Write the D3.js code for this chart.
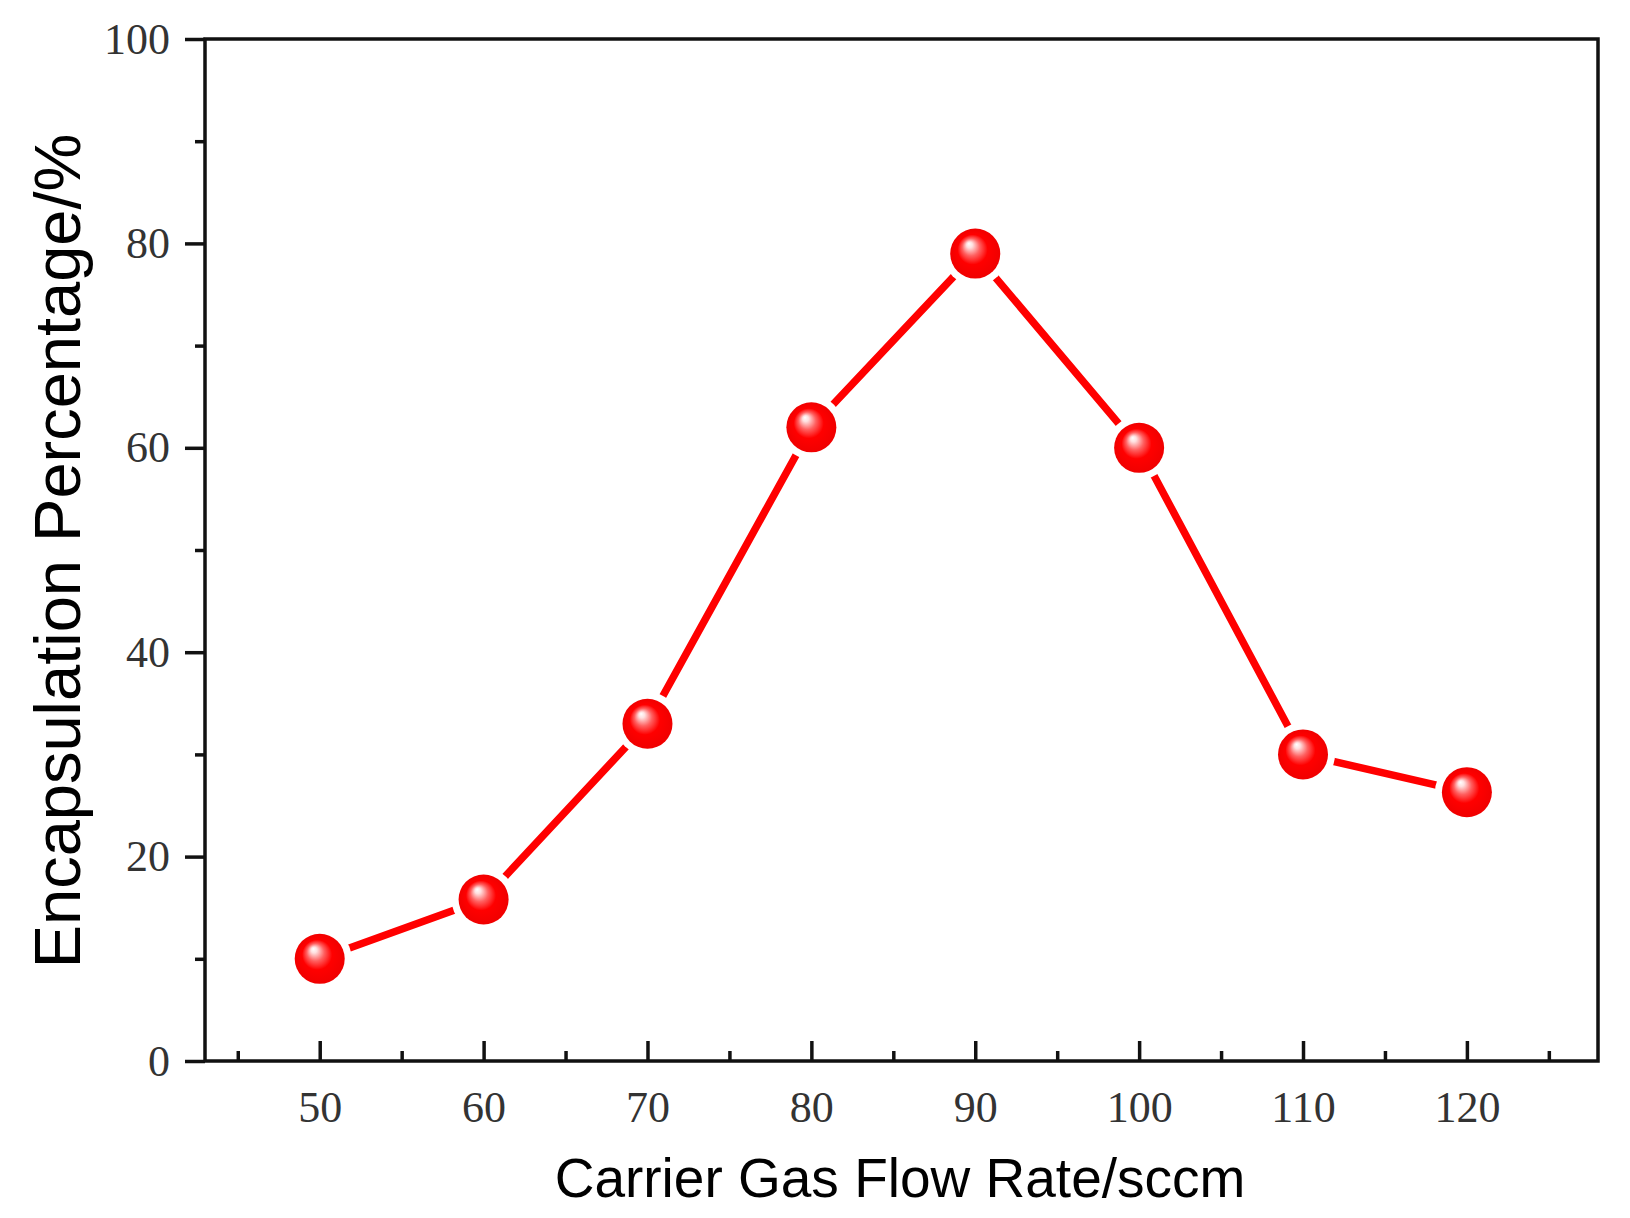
<html>
<script src='https://d3js.org/d3.v7.min.js'></script>
<style>
body {margin: 0; background: white;}
.tick text {font-family: 'Liberation Serif', 'DejaVu Serif', serif; font-size: 44px; fill: #333;}
.domain {display: none;}
</style>
<body>
<svg id="chart" width=1630 height=1218></svg>
<script>

// data
const flowRate = [50, 60, 70, 80, 90, 100, 110, 120];
const encapsulation = [10, 15.8, 33, 62, 79, 60, 30, 26.3];
const xTicks = [50, 60, 70, 80, 90, 100, 110, 120];
const xMinor = [45, 55, 65, 75, 85, 95, 105, 115, 125];
const yTicks = [0, 20, 40, 60, 80, 100];
const yMinor = [10, 30, 50, 70, 90];

var margin = {top: 39, right: 32, bottom: 157, left: 205},
    width = 1630 - margin.left - margin.right,
    height = 1218 - margin.top - margin.bottom;

var svg = d3.select("#chart");

var defs = svg.append("defs");
var grad = defs.append("radialGradient").attr("id", "ball")
  .attr("cx", "0.5").attr("cy", "0.5").attr("r", "0.5")
  .attr("fx", "0.37").attr("fy", "0.3");
grad.append("stop").attr("offset", "0").attr("stop-color", "#ffffff");
grad.append("stop").attr("offset", "0.12").attr("stop-color", "#ffe0e0");
grad.append("stop").attr("offset", "0.35").attr("stop-color", "#ff6060");
grad.append("stop").attr("offset", "0.6").attr("stop-color", "#ff0000");
grad.append("stop").attr("offset", "1").attr("stop-color", "#f00000");

var g = svg.append("g").attr("transform", "translate(" + margin.left + "," + margin.top + ")");

var x = d3.scaleLinear().domain([43, 128]).range([0, width]);
var y = d3.scaleLinear().domain([0, 100]).range([height, 0]);

// y axis, ticks outward
g.append("g").call(d3.axisLeft(y).tickValues(yTicks).tickSize(20).tickPadding(15))
  .selectAll("line").attr("stroke", "#111").attr("stroke-width", 3.5);
g.append("g").call(d3.axisLeft(y).tickValues(yMinor).tickSize(10).tickFormat(""))
  .selectAll("line").attr("stroke", "#111").attr("stroke-width", 3.5);

// x axis, ticks inward
g.append("g").attr("transform", "translate(0," + height + ")")
  .call(d3.axisBottom(x).tickValues(xTicks).tickSize(-20).tickPadding(30))
  .selectAll("line").attr("stroke", "#111").attr("stroke-width", 3.5);
g.append("g").attr("transform", "translate(0," + height + ")")
  .call(d3.axisBottom(x).tickValues(xMinor).tickSize(-10).tickFormat(""))
  .selectAll("line").attr("stroke", "#111").attr("stroke-width", 3.5);

// frame
g.append("rect").attr("x", 0).attr("y", 0).attr("width", width).attr("height", height)
  .attr("fill", "none").attr("stroke", "#111").attr("stroke-width", 3.5);

var pts = flowRate.map((f, i) => ({x: f, y: encapsulation[i]}));

var line = d3.line().x(d => x(d.x)).y(d => y(d.y));
g.append("path").datum(pts).attr("d", line)
  .attr("fill", "none").attr("stroke", "#ff0000").attr("stroke-width", 7.5);

// white halo so the line stops short of each ball
g.selectAll("circle.halo").data(pts).enter().append("circle")
  .attr("class", "halo")
  .attr("cx", d => x(d.x)).attr("cy", d => y(d.y)).attr("r", 32).attr("fill", "white");

g.selectAll("circle.ball").data(pts).enter().append("circle")
  .attr("class", "ball")
  .attr("cx", d => x(d.x)).attr("cy", d => y(d.y)).attr("r", 25)
  .attr("fill", "url(#ball)");

// axis titles
svg.append("text")
  .attr("x", 900).attr("y", 1197)
  .style("text-anchor", "middle")
  .style("font-family", "'Liberation Sans', Arial, sans-serif")
  .style("font-size", "55px")
  .attr("fill", "#000")
  .text("Carrier Gas Flow Rate/sccm");

svg.append("text")
  .attr("transform", "translate(80,551) rotate(-90)")
  .style("text-anchor", "middle")
  .style("font-family", "'Liberation Sans', Arial, sans-serif")
  .style("font-size", "65px")
  .attr("fill", "#000")
  .text("Encapsulation Percentage/%");

</script>
</body>
</html>
